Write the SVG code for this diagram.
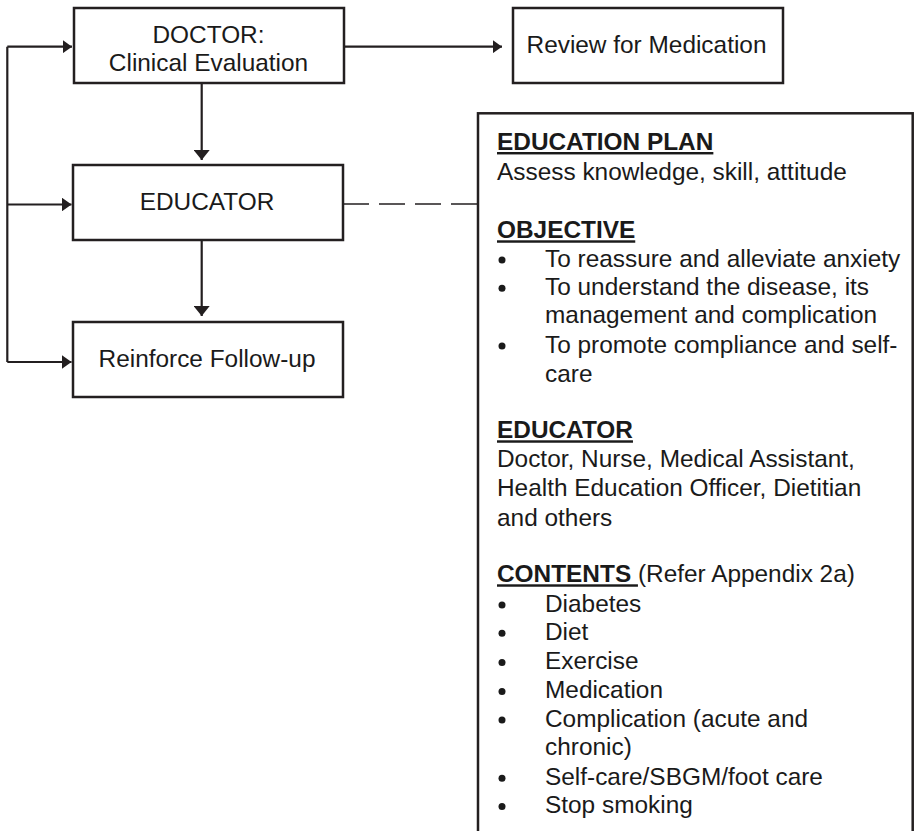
<svg xmlns="http://www.w3.org/2000/svg" width="915" height="831" viewBox="0 0 915 831">
<style>
  .box { fill: #ffffff; stroke: #231f20; stroke-width: 2.5; }
  .t { font-family: "Liberation Sans", Arial, sans-serif; font-size: 24.4px; fill: #1a1a1a; }
  .c { text-anchor: middle; }
  .b { font-weight: bold; }
  .u { text-decoration: underline; }
  .line { fill: none; stroke: #231f20; stroke-width: 2.2; }
  .dash { fill: none; stroke: #231f20; stroke-width: 1.4; stroke-dasharray: 26 10; }
  .bul { fill: #1a1a1a; }
</style>
<defs>
  <marker id="ah" viewBox="0 0 9.5 13.5" markerUnits="userSpaceOnUse" markerWidth="9.5" markerHeight="13.5" refX="9.5" refY="6.75" orient="auto">
    <path d="M0,0 L9.5,6.75 L0,13.5 Z" fill="#231f20"/>
  </marker>
  <marker id="av" viewBox="0 0 10 16" markerUnits="userSpaceOnUse" markerWidth="10" markerHeight="16" refX="10" refY="8" orient="auto">
    <path d="M0,0 L10,8 L0,16 Z" fill="#231f20"/>
  </marker>
</defs>

<g id="connectors">
  <path class="line" d="M7.3,46.7 V362"/>
  <path class="line" d="M7.3,46.7 H72" marker-end="url(#ah)"/>
  <path class="line" d="M7.3,204.5 H71.5" marker-end="url(#ah)"/>
  <path class="line" d="M7.3,362 H71.5" marker-end="url(#ah)"/>
  <path class="line" d="M344,46.7 H502" marker-end="url(#ah)"/>
  <path class="line" d="M201.7,83 V160" marker-end="url(#av)"/>
  <path class="line" d="M201.7,240 V316" marker-end="url(#av)"/>
  <path class="dash" d="M343,204 H478"/>
</g>

<g id="doctor">
  <rect class="box" x="74" y="8" width="270" height="75"/>
  <text class="t c" x="208.5" y="43.3">DOCTOR:</text>
  <text class="t c" x="208.5" y="70.7">Clinical Evaluation</text>
</g>

<g id="review">
  <rect class="box" x="513" y="8" width="270" height="75"/>
  <text class="t c" x="646.5" y="53.3">Review for Medication</text>
</g>

<g id="educator">
  <rect class="box" x="73" y="165" width="270" height="75"/>
  <text class="t c" x="207" y="210">EDUCATOR</text>
</g>

<g id="reinforce">
  <rect class="box" x="73" y="322" width="270" height="75"/>
  <text class="t c" x="207" y="366.7">Reinforce Follow-up</text>
</g>

<g id="education-plan">
  <rect class="box" x="478" y="113.3" width="434.7" height="740"/>
  <text class="t b u" x="497" y="150">EDUCATION PLAN</text>
  <text class="t" x="497" y="180">Assess knowledge, skill, attitude</text>

  <text class="t b u" x="497" y="238.3">OBJECTIVE</text>
  <circle class="bul" cx="502" cy="260" r="3.5"/>
  <text class="t" x="545" y="266.7">To reassure and alleviate anxiety</text>
  <circle class="bul" cx="502" cy="288.3" r="3.5"/>
  <text class="t" x="545" y="295">To understand the disease, its</text>
  <text class="t" x="545" y="323.3">management and complication</text>
  <circle class="bul" cx="502" cy="346" r="3.5"/>
  <text class="t" x="545" y="352.7">To promote compliance and self-</text>
  <text class="t" x="545" y="381.7">care</text>

  <text class="t b u" x="497" y="438.3">EDUCATOR</text>
  <text class="t" x="497" y="467.3">Doctor, Nurse, Medical Assistant,</text>
  <text class="t" x="497" y="496">Health Education Officer, Dietitian</text>
  <text class="t" x="497" y="526">and others</text>

  <text class="t" x="497" y="582.3"><tspan class="b u">CONTENTS </tspan><tspan>(Refer Appendix 2a)</tspan></text>
  <circle class="bul" cx="502" cy="605" r="3.5"/>
  <text class="t" x="545" y="611.7">Diabetes</text>
  <circle class="bul" cx="502" cy="633.3" r="3.5"/>
  <text class="t" x="545" y="640">Diet</text>
  <circle class="bul" cx="502" cy="662.6" r="3.5"/>
  <text class="t" x="545" y="669.3">Exercise</text>
  <circle class="bul" cx="502" cy="691.6" r="3.5"/>
  <text class="t" x="545" y="698.3">Medication</text>
  <circle class="bul" cx="502" cy="720" r="3.5"/>
  <text class="t" x="545" y="726.7">Complication (acute and</text>
  <text class="t" x="545" y="755">chronic)</text>
  <circle class="bul" cx="502" cy="778.3" r="3.5"/>
  <text class="t" x="545" y="785">Self-care/SBGM/foot care</text>
  <circle class="bul" cx="502" cy="806.6" r="3.5"/>
  <text class="t" x="545" y="813.3">Stop smoking</text>
</g>
</svg>
